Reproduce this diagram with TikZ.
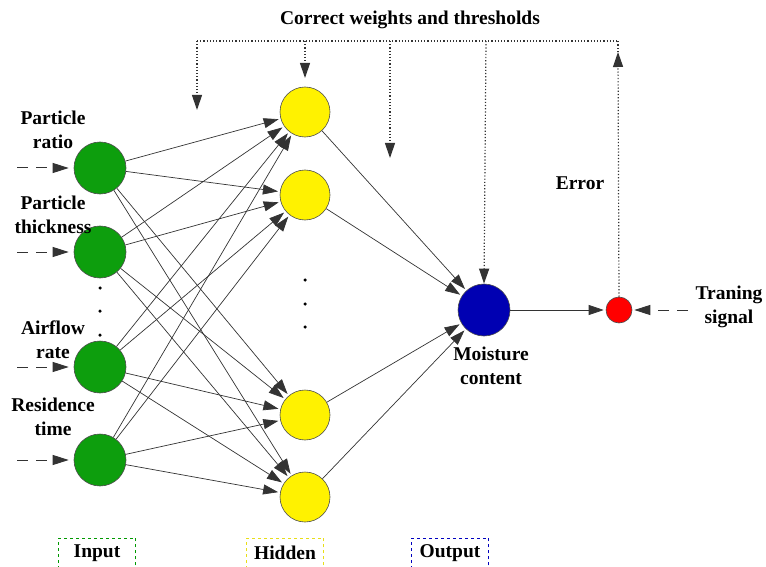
\documentclass[tikz,border=0pt]{standalone}
\usepackage{fontspec}
\setmainfont{Liberation Serif}
\usetikzlibrary{positioning, arrows.meta}

\begin{document}
\begin{tikzpicture}[x=1pt, y=-1pt, >={Triangle[length=15pt, width=10pt]},
  font=\bfseries\fontsize{19.5}{24}\selectfont]

\tikzset{
  neuron/.style={circle, draw=black!70, line width=0.6pt, inner sep=0pt},
  innode/.style={neuron, fill=green!60!black!95, minimum size=52pt},
  hidnode/.style={neuron, fill=yellow, minimum size=50pt},
  outnode/.style={neuron, fill=blue!70!black, minimum size=52pt},
  errnode/.style={neuron, fill=red, minimum size=26pt},
  link/.style={-{Triangle[length=15pt, width=10pt]}, line width=0.7pt, shorten >=2pt, color=black!80},
  feed/.style={line width=1.2pt, dotted, color=black!80},
  feedtip/.style={feed, -{Triangle[length=15pt, width=10pt]}},
  feedin/.style={-{Triangle[length=16pt, width=10pt]}, line width=1pt, dash pattern=on 11pt off 8pt, color=black!80},
  lbl/.style={align=center, inner sep=1pt},
  legend/.style={draw, dashed, line width=0.8pt, minimum width=77pt, minimum height=40pt, anchor=north},
  dot/.style={circle, fill=black, inner sep=0pt, minimum size=3.5pt},
}

\useasboundingbox (0,0) rectangle (766,567);

\node[innode] (i1) at (100,168) {};
\node[innode] (i2) at (100,252) {};
\node[innode] (i3) at (100,367) {};
\node[innode] (i4) at (100,460) {};

\node[hidnode] (h1) at (305,112) {};
\node[hidnode] (h2) at (305,195) {};
\node[hidnode] (h3) at (305,415) {};
\node[hidnode] (h4) at (305,497) {};

\node[outnode] (out) at (484,310) {};
\node[errnode] (err) at (619,310) {};

\node[dot] (id1) at (100,288) {};
\node[dot] (id2) at (100,311) {};
\node[dot] (id3) at (100,335) {};
\node[dot] (hd1) at (305,280) {};
\node[dot] (hd2) at (305,304) {};
\node[dot] (hd3) at (305,327) {};

\node[lbl] (l1) at (53,130) {Particle\\ratio};
\node[lbl] (l2) at (53,215) {Particle\\thickness};
\node[lbl] (l3) at (53,340) {Airflow\\rate};
\node[lbl] (l4) at (53,417) {Residence\\time};
\node[lbl] (lout) at (491,366) {Moisture\\content};
\node[lbl] (ltrain) at (729,307) {Traning\\signal};
\node[lbl] (lerr) at (580,183) {Error};
\node[lbl] (title) at (410,20) {Correct weights and thresholds};

\node[legend, draw=green!60!black] (bin) at (97,538) {};
\node[legend, draw=yellow!90!black] (bhid) at (285,538) {};
\node[legend, draw=blue!75!black] (bout) at (450,538) {};
\node[lbl] (tin) at (97,553) {Input};
\node[lbl] (thid) at (285,553) {Hidden};
\node[lbl] (tout) at (450,553) {Output};

\coordinate (s1) at (17,168);
\coordinate (s2) at (17,252);
\coordinate (s3) at (17,367);
\coordinate (s4) at (17,460);
\foreach \k in {1,...,4} {
  \draw[feedin] (s\k) -- ([xshift=-5pt]i\k.west);
}
\coordinate (strain) at (688,310);
\draw[feedin] (strain) -- ([xshift=2pt]err.east);

\foreach \a in {1,...,4} {
  \foreach \b in {1,...,4} {
    \draw[link] (i\a) -- (h\b);
  }
  \draw[link] (h\a) -- (out);
}
\draw[link] (out) -- (err);

\coordinate (fl) at (197,41);
\coordinate (fr) at (618,41);
\coordinate (fh) at (305,41);
\coordinate (fm) at (390,41);
\coordinate (fo) at (486,41);
\coordinate (fup) at (618,52);
\draw[feed] (fl) -- (fr);
\draw[feedtip] (fl) -- (197,110);
\draw[feedtip] (fh) -- (305,78);
\draw[feedtip] (fm) -- (390,158);
\draw[feedtip] (fo) -- (out.north);
\draw[feedtip] (err.north) -- (fup);
\draw[feed] (fup) -- (fr);

\end{tikzpicture}
\end{document}
